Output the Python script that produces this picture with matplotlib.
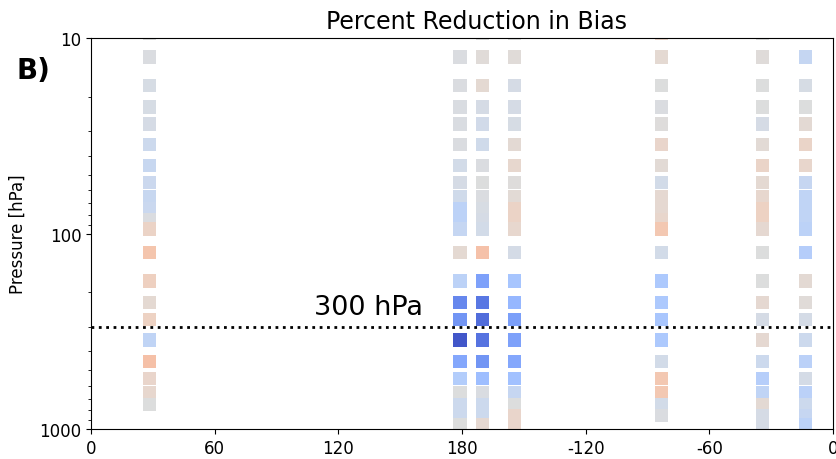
import numpy as np
import matplotlib
matplotlib.use('Agg')
import matplotlib.pyplot as plt
from matplotlib.ticker import NullFormatter

# pressure levels [hPa] (layer mid points)
levels = [9.5, 12.5, 17.5, 22.5, 27.5, 35, 45, 55, 65, 75, 85, 95,
          125, 175, 225, 275, 350, 450, 550, 650, 750, 850, 950]

# station longitudes (0-360)
lons = [28.3, 179.0, 189.8, 205.5, 276.8, 325.9, 346.6]

nan = np.nan
# percent reduction in bias, one list per station, top to bottom
red_028 = [0, 2, 5, 5, 6, 12, 15, 13, 15, 14, 2, -12,
           -25, -15, -6, -14, 20, -28, -10, -8, 0, nan, nan]
red_179 = [nan, 2, 2, 3, 3, 2, 8, 6, 10, 22, 22, 17,
           -6, 22, 72, 65, 95, 55, 28, 0, 12, 12, 0]
red_190 = [0, -3, -6, 6, 9, 10, 2, 0, 2, 4, 6, 8,
           -27, 58, 80, 85, 82, 65, 40, 3, 12, 12, -7]
red_205 = [0, -3, 6, 6, 5, -5, -8, -1, -4, -12, -12, -8,
           7, 35, 45, 60, 58, 55, 38, 16, 0, -10, -10]
red_277 = [-10, -6, 0, 2, -1, -10, -4, 8, -7, -7, -9, -22,
           8, 32, 32, 34, 32, 8, -22, -22, 8, 2, nan]
red_326 = [0, -2, 0, 0, 6, -4, -11, -6, -8, -14, -14, -7,
           0, 0, -7, 6, -7, 12, 26, 20, -5, 6, 6]
red_347 = [nan, 17, 5, 0, -5, -11, -9, 16, 20, 20, 20, 22,
           27, -5, -3, 7, 12, 23, 7, 23, 12, 16, 22]

stations = [red_028, red_179, red_190, red_205, red_277, red_326, red_347]

xticks = [0, 60, 120, 180, 240, 300, 360]
xticklabels = ['0', '60', '120', '180', '-120', '-60', '0']

fig = plt.figure(figsize=(8.36, 4.6), dpi=100)
ax = fig.add_axes([91 / 836, 1 - 430 / 460, 742 / 836, 391 / 460])

for lon, vals in zip(lons, stations):
    vals = np.array(vals, dtype=float)
    ok = ~np.isnan(vals)
    ax.scatter(np.full(ok.sum(), lon), np.array(levels)[ok], c=vals[ok],
               cmap='coolwarm_r', vmin=-100, vmax=100, marker='s', s=92,
               linewidths=0, zorder=2)

ax.axhline(300, color='k', linestyle=':', linewidth=2, zorder=3)
ax.text(108, 237, '300 hPa', fontsize=19.5, va='center')

ax.set_yscale('log')
ax.set_ylim(1000, 10)
ax.set_yticks([10, 100, 1000])
ax.set_yticklabels(['10', '100', '1000'])
ax.yaxis.set_minor_formatter(NullFormatter())
ax.set_xlim(0, 360)
ax.set_xticks(xticks)
ax.set_xticklabels(xticklabels)
ax.tick_params(labelsize=12)

ax.set_ylabel('Pressure [hPa]', fontsize=12, labelpad=9)
ax.set_title('Percent Reduction in Bias', fontsize=17, x=0.519, pad=7)
fig.text(0.02, 0.846, 'B)', fontsize=20, fontweight='bold', va='center')

fig.savefig('out.png', dpi=100)
